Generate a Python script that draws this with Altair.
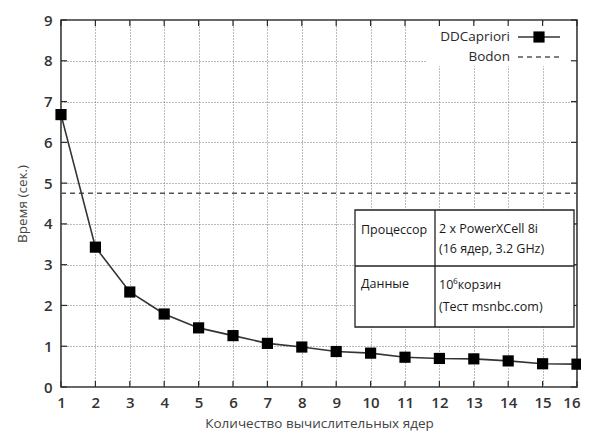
import altair as alt
import pandas as pd

# ---- data ----
cores = list(range(1, 17))
ddcapriori = [6.68, 3.43, 2.33, 1.79, 1.45, 1.26, 1.07, 0.98, 0.87, 0.83,
              0.73, 0.70, 0.69, 0.64, 0.57, 0.56]
bodon_time = 4.75
x_ticks = cores
y_ticks = list(range(0, 10))
series_names = ["DDCapriori", "Bodon"]
x_title = "Количество вычислительных ядер"
y_title = "Время (сек.)"
table_keys = ["Процессор", "Данные"]
table_vals = [["2 x PowerXCell 8i", "(16 ядер, 3.2 GHz)"],
              ["10⁶корзин", "(Тест msnbc.com)"]]

W, H = 516, 367
FONT = "Open Sans"
DARK = "#2a2a2a"

xscale = alt.Scale(domain=[1, 16], nice=False, zero=False)
yscale = alt.Scale(domain=[0, 9], nice=False)
last = x_ticks[-1]
xaxis = alt.Axis(values=x_ticks, grid=True, ticks=False, domain=False,
                 labelPadding=8, title=x_title, titlePadding=6,
                 labelFlush=False,
                 labelAlign={"condition": {"test": f"datum.value === {last}", "value": "right"},
                             "value": "center"},
                 labelOffset={"condition": {"test": f"datum.value === {last}", "value": 3},
                              "value": 0})
yaxis = alt.Axis(values=y_ticks, grid=True, ticks=False, domain=False,
                 labelPadding=9, title=y_title, titlePadding=14)

X = alt.X("cores:Q", scale=xscale, axis=xaxis)
Y = alt.Y("time:Q", scale=yscale, axis=yaxis)

df = pd.DataFrame({"cores": cores, "time": ddcapriori})
bodon_df = pd.DataFrame({"cores": [cores[0], cores[-1]], "time": [bodon_time, bodon_time]})
xt_df = pd.DataFrame({"cores": x_ticks})
yt_df = pd.DataFrame({"time": y_ticks})
one = pd.DataFrame({"a": [0]})

# gridlines via axes; white legend background
legend_bg = alt.Chart(one).mark_rect(fill="white").encode(
    x=alt.value(365), x2=alt.value(W - 1), y=alt.value(2), y2=alt.value(46))

bodon = alt.Chart(bodon_df).mark_line(color="#555", strokeWidth=1.6,
                                       strokeDash=[5, 4]).encode(x=X, y=Y)
line = alt.Chart(df).mark_line(color="#333", strokeWidth=1.6).encode(x=X, y=Y)
pts = alt.Chart(df).mark_point(shape="square", filled=True, color="black",
                               opacity=1, size=125).encode(x=X, y=Y)

# inward ticks on all four sides
tb = alt.Chart(xt_df).mark_rule(color=DARK, strokeWidth=1.2).encode(
    x=X, y=alt.value(H), y2=alt.value(H - 6))
tt = alt.Chart(xt_df).mark_rule(color=DARK, strokeWidth=1.2).encode(
    x=X, y=alt.value(0), y2=alt.value(6))
tl = alt.Chart(yt_df).mark_rule(color=DARK, strokeWidth=1.2).encode(
    y=Y, x=alt.value(0), x2=alt.value(6))
tr = alt.Chart(yt_df).mark_rule(color=DARK, strokeWidth=1.2).encode(
    y=Y, x=alt.value(W), x2=alt.value(W - 6))

# legend
leg_txt = alt.Chart(pd.DataFrame({"t": series_names, "yy": [17, 37]})).mark_text(
    align="right", baseline="middle", font=FONT, fontSize=13.5, color=DARK).encode(
    x=alt.value(449), y=alt.Y("yy:Q", scale=None), text="t:N")
leg_line = alt.Chart(one).mark_rule(color="#333", strokeWidth=1.6).encode(
    x=alt.value(457), x2=alt.value(499), y=alt.value(17))
leg_sq = alt.Chart(one).mark_point(shape="square", filled=True, color="black",
                                   opacity=1, size=125).encode(
    x=alt.value(478), y=alt.value(17))
leg_dash = alt.Chart(one).mark_rule(color="#555", strokeWidth=1.6,
                                    strokeDash=[5, 4]).encode(
    x=alt.value(457), x2=alt.value(499), y=alt.value(37))

# info table
TX0, TX1, TXM = 294, 513, 374
tbl_box = alt.Chart(one).mark_rect(fill="white", stroke="#222", strokeWidth=1.3).encode(
    x=alt.value(TX0), x2=alt.value(TX1), y=alt.value(190), y2=alt.value(307))
tbl_v = alt.Chart(one).mark_rule(color="#222", strokeWidth=1.3).encode(
    x=alt.value(TXM), y=alt.value(190), y2=alt.value(307))
tbl_h = alt.Chart(one).mark_rule(color="#222", strokeWidth=1.3).encode(
    x=alt.value(TX0), x2=alt.value(TX1), y=alt.value(246))
cell_df = pd.DataFrame({
    "t": [table_keys[0], table_vals[0][0], table_vals[0][1],
          table_keys[1], table_vals[1][0], table_vals[1][1]],
    "xx": [TX0 + 6, TXM + 4, TXM + 4, TX0 + 6, TXM + 4, TXM + 4],
    "yy": [210, 209, 229, 264, 265, 287],
})
tbl_txt = alt.Chart(cell_df).mark_text(
    align="left", baseline="middle", font=FONT, fontSize=12.5, color="#1a1a1a").encode(
    x=alt.X("xx:Q", scale=None), y=alt.Y("yy:Q", scale=None), text="t:N")

chart = alt.layer(
    legend_bg, bodon, line, pts, tb, tt, tl, tr,
    leg_txt, leg_line, leg_sq, leg_dash,
    tbl_box, tbl_v, tbl_h, tbl_txt,
).properties(
    width=W, height=H,
    autosize=alt.AutoSizeParams(type="none"),
    padding={"left": 53, "top": 12, "right": 4, "bottom": 46},
    background="white",
).configure_view(
    stroke="#333", strokeWidth=1.6
).configure_axis(
    gridColor="#777", gridDash=[1, 2], gridWidth=1, gridOpacity=1,
    labelFont=FONT, labelFontSize=15, labelColor="#333", labelFontWeight=600,
    titleFont=FONT, titleFontSize=13.5, titleFontWeight="normal", titleColor="#444",
)

chart.save("out.html", embed_options={"renderer": "svg", "actions": False})
